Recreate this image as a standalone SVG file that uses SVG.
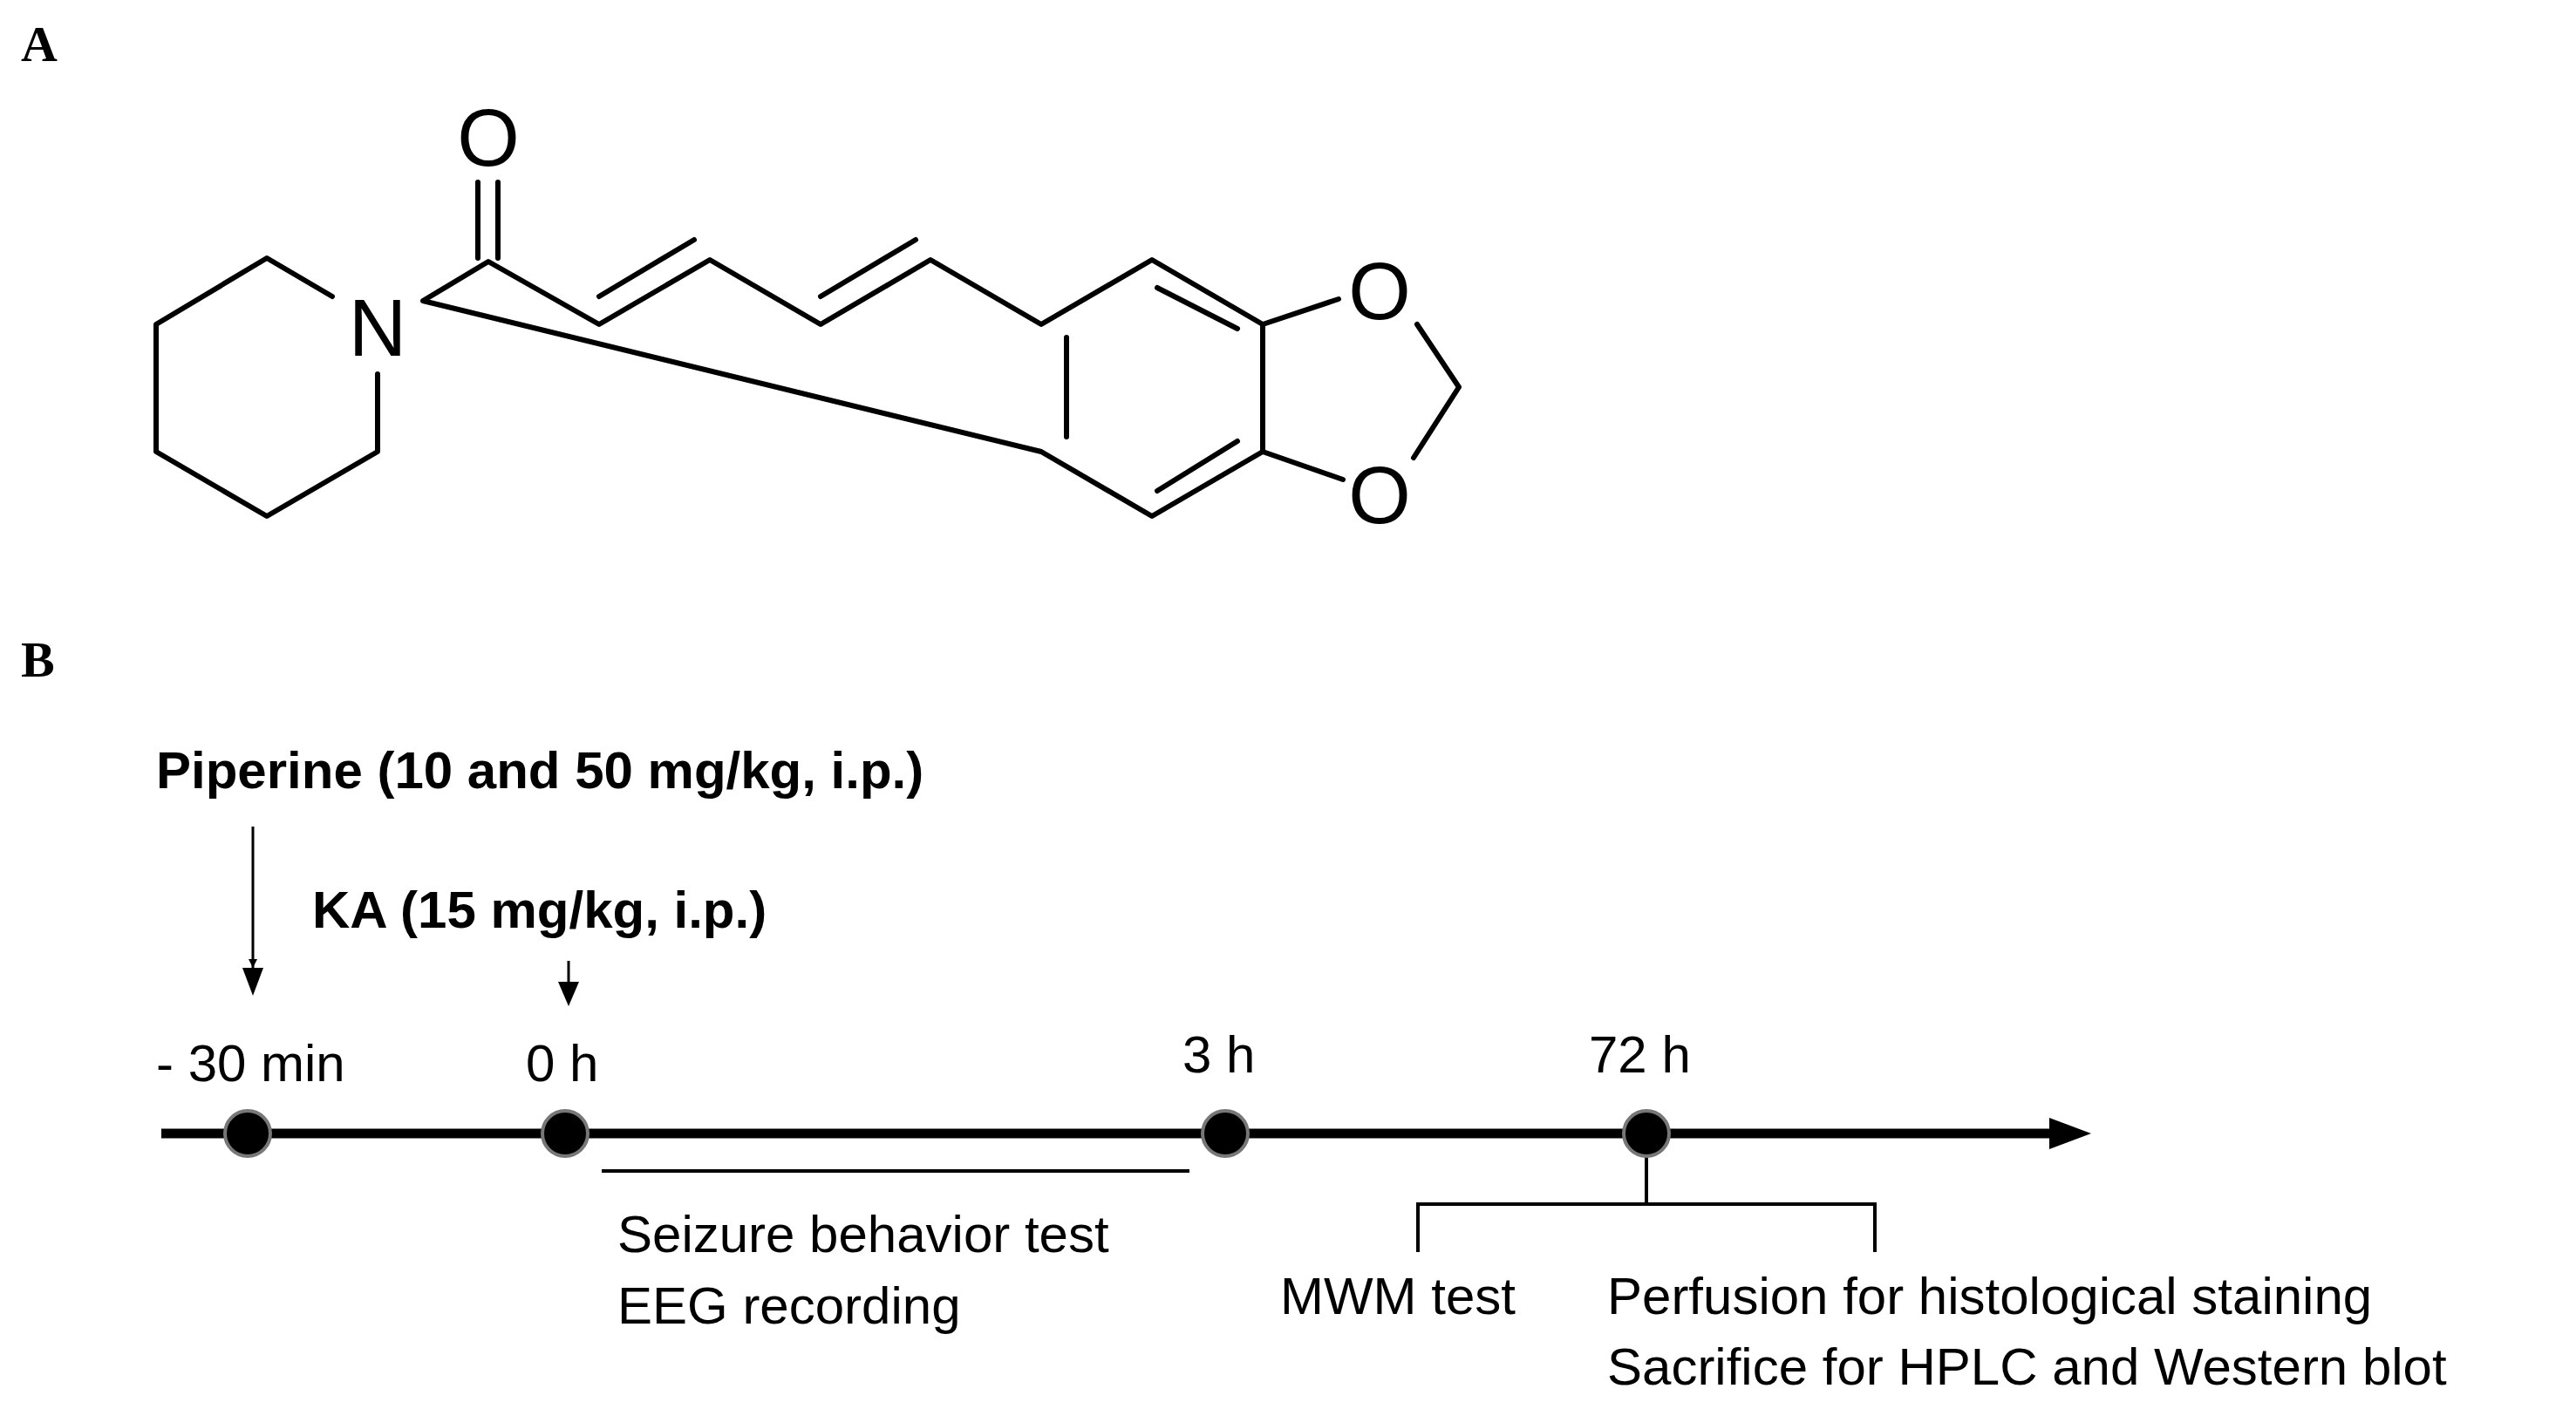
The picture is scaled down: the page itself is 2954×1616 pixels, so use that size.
<svg xmlns="http://www.w3.org/2000/svg" width="2954" height="1616" viewBox="0 0 2954 1616">
<defs>
<style>
.b{stroke:#000;stroke-width:6;fill:none;stroke-linecap:round;stroke-linejoin:round}
.at{font-family:"Liberation Sans",Arial,sans-serif;font-size:92px;fill:#000}
.lbl{font-family:"Liberation Serif","Times New Roman",serif;font-weight:bold;font-size:58px;fill:#000}
.bt{font-family:"Liberation Sans",Arial,sans-serif;font-weight:bold;font-size:60px;fill:#000}
.t{font-family:"Liberation Sans",Arial,sans-serif;font-size:60px;fill:#000}
.dot{fill:#000;stroke:#777;stroke-width:4}
.ln{stroke:#000;fill:none}
</style>
<marker id="ah" viewBox="0 0 10 10" refX="10" refY="5" markerWidth="10" markerHeight="10" markerUnits="userSpaceOnUse" orient="auto"><path d="M0,0L10,5L0,10z"/></marker>
</defs>
<rect width="2954" height="1616" fill="#fff"/>
<text class="lbl" x="24" y="70">A</text>
<text class="lbl" x="24" y="776">B</text>
<g id="molecule">
<path class="b" d="M381,340 L306,296 L179,372 L179,518 L306,592 L433,518 L433,429"/>
<path class="b" d="M485,345 L560,300 L687,372 L814,298 L941,372 L1067,298 L1194,372 L1321,298 L1448,372 L1448,518 L1321,592 L1194,518 Z"/>
<path class="b" d="M548,209 L548,296 M571,209 L571,296"/>
<path class="b" d="M687,340 L796,275 M941,340 L1050,275"/>
<path class="b" d="M1223,387 L1223,501 M1327,330 L1419,377 M1327,563 L1419,506"/>
<path class="b" d="M1448,372 L1535,343 M1448,518 L1540,550 M1625,372 L1673,444 L1621,525"/>
<text class="at" x="433" y="408" text-anchor="middle">N</text>
<text class="at" x="560" y="190" text-anchor="middle">O</text>
<text class="at" x="1582" y="366" text-anchor="middle">O</text>
<text class="at" x="1582" y="600" text-anchor="middle">O</text>
</g>
<g id="timeline">
<line class="ln" x1="185" y1="1300" x2="2360" y2="1300" stroke-width="11"/>
<path d="M2350,1282 L2398,1300 L2350,1318 Z"/>
</g>
<g id="connectors">
<line class="ln" x1="290" y1="948" x2="290" y2="1110" stroke-width="3" marker-end="url(#ah)"/>
<path d="M278,1110 L302,1110 L290,1142 Z"/>
<line class="ln" x1="652" y1="1102" x2="652" y2="1128" stroke-width="3"/>
<path d="M640,1126 L664,1126 L652,1154 Z"/>
<line class="ln" x1="690" y1="1343" x2="1364" y2="1343" stroke-width="4"/>
<path class="ln" d="M1888,1326 L1888,1381 M1626,1436 L1626,1381 L2150,1381 L2150,1436" stroke-width="4"/>
</g>
<g id="n-piperine"><text class="bt" x="179" y="904">Piperine (10 and 50 mg/kg, i.p.)</text></g>
<g id="n-ka"><text class="bt" x="358" y="1064">KA (15 mg/kg, i.p.)</text></g>
<g id="n-m30"><circle class="dot" cx="284" cy="1300" r="26"/><text class="t" x="179" y="1240">- 30 min</text></g>
<g id="n-0h"><circle class="dot" cx="648" cy="1300" r="26"/><text class="t" x="603" y="1240">0 h</text></g>
<g id="n-3h"><circle class="dot" cx="1405" cy="1300" r="26"/><text class="t" x="1356" y="1230">3 h</text></g>
<g id="n-72h"><circle class="dot" cx="1888" cy="1300" r="26"/><text class="t" x="1822" y="1230">72 h</text></g>
<g id="n-seizure"><text class="t" x="708" y="1436">Seizure behavior test</text><text class="t" x="708" y="1518">EEG recording</text></g>
<g id="n-mwm"><text class="t" x="1468" y="1507">MWM test</text></g>
<g id="n-perf"><text class="t" x="1843" y="1507">Perfusion for histological staining</text><text class="t" x="1843" y="1588">Sacrifice for HPLC and Western blot</text></g>
</svg>
